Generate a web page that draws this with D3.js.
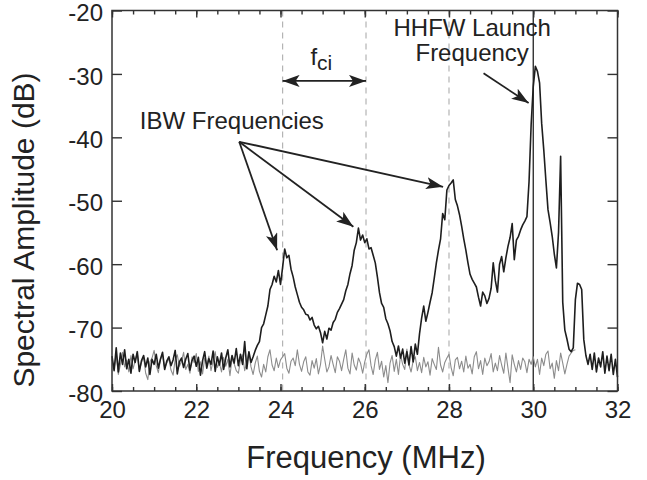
<!DOCTYPE html>
<html>
<head>
<meta charset="utf-8">
<script src="https://cdn.jsdelivr.net/npm/d3@7"></script>
<style>
  body { margin: 0; background: #fff; }
  svg { display: block; font-family: "Liberation Sans", Arial, sans-serif; }
</style>
</head>
<body>
<div id="chart"></div>
<script>
// frequency grid of both traces (MHz)
const freqStart = 20;
const freqStep = 0.05;

// plasma spectrum (black), one row per MHz
const plasmaDb = [
  -74.5, -76.8, -73.2, -77.0, -74.0, -75.8, -73.5, -76.5, -75.0, -77.2, -74.2, -75.5, -73.8, -76.9, -75.2, -74.4, -76.2, -74.8, -77.4, -75.0,
  -75.8, -74.2, -76.4, -75.0, -73.9, -76.6, -75.3, -74.6, -76.0, -75.1, -73.6, -77.3, -75.4, -74.8, -76.3, -75.0, -74.1, -76.7, -75.2, -74.5,
  -76.1, -74.7, -77.5, -75.2, -73.8, -76.4, -74.9, -75.8, -73.7, -76.9, -74.6, -75.9, -74.0, -76.6, -74.8, -73.5, -76.2, -74.4, -75.6, -73.3,
  -76.0, -74.2, -75.8, -72.2, -76.5, -73.8, -75.5, -74.6, -73.6, -72.8, -72.2, -70.0, -69.4, -68.0, -66.6, -64.0, -63.2, -61.9, -62.8, -61.0,
  -63.2, -60.5, -57.6, -59.0, -58.6, -60.8, -62.0, -63.6, -64.8, -66.0, -66.8, -67.2, -67.9, -68.0, -68.8, -68.4, -69.6, -70.2, -69.8, -70.8,
  -72.4, -70.6, -71.8, -70.1, -70.4, -69.2, -68.7, -67.6, -67.0, -66.3, -65.6, -64.2, -63.2, -61.5, -60.2, -57.8, -56.6, -54.3, -56.2, -55.4,
  -56.6, -56.0, -57.6, -57.4, -58.6, -59.8, -62.0, -64.5, -66.2, -66.8, -68.6, -69.4, -70.5, -72.2, -73.0, -74.5, -72.9, -74.8, -73.4, -75.6,
  -73.8, -75.9, -73.0, -75.4, -72.6, -74.2, -71.0, -68.5, -66.6, -69.0, -67.6, -66.0, -64.5, -62.2, -59.8, -57.8, -56.0, -52.0, -53.0, -48.3,
  -47.6, -47.2, -46.7, -49.8, -50.8, -52.2, -54.0, -56.0, -57.8, -59.8, -61.6, -62.4, -63.0, -63.6, -65.2, -66.6, -64.4, -65.0, -66.2, -65.4,
  -63.8, -59.8, -62.6, -64.4, -60.0, -58.8, -61.2, -59.0, -57.2, -55.8, -53.6, -59.3, -56.2, -55.6, -54.6, -53.8, -53.2, -52.5, -47.0, -38.0,
  -32.0, -28.8, -29.6, -31.4, -37.8, -42.0, -46.8, -51.4, -53.4, -55.6, -58.4, -60.6, -55.0, -43.0, -66.0, -70.4, -71.8, -73.4, -73.8, -73.2,
  -65.6, -63.0, -63.2, -64.0, -71.9, -74.4, -75.8, -74.2, -76.6, -74.0, -77.0, -74.8, -76.2, -73.8, -77.2, -74.5, -76.8, -74.2, -77.4, -75.0,
  -77.8
];

// background / no plasma (grey), 20 to 31 MHz
const noiseDb = [
  -75.0, -76.6, -74.2, -77.4, -75.8, -73.9, -76.2, -75.1, -77.0, -74.4, -76.5, -75.2, -74.0, -76.8, -75.5, -74.6, -77.2, -78.2, -75.4, -74.8,
  -73.6, -76.0, -77.1, -75.0, -74.2, -76.4, -75.6, -74.9, -76.7, -77.5, -75.0, -74.3, -76.1, -75.3, -73.9, -76.6, -75.8, -77.2, -74.6, -75.5,
  -74.1, -76.9, -75.4, -77.3, -74.8, -75.9, -74.5, -76.8, -75.2, -73.8, -76.3, -75.6, -77.0, -74.7, -76.1, -75.0, -77.6, -74.9, -75.7, -76.8,
  -77.2, -75.1, -74.3, -76.8, -75.4, -73.9, -76.2, -77.4, -75.6, -74.5, -76.9, -77.8, -75.8, -77.0, -74.6, -73.5, -75.9, -76.8, -74.8, -76.3,
  -75.1, -74.6, -74.1, -76.4, -77.2, -75.3, -74.8, -76.0, -73.5, -75.8, -76.9, -75.4, -74.6, -77.0, -77.5, -75.2, -76.4, -74.9, -77.3, -75.8,
  -72.9, -75.0, -77.0, -76.2, -74.4, -75.8, -77.1, -74.6, -75.3, -76.8, -75.0, -73.5, -76.4, -77.3, -74.0, -75.9, -76.7, -74.8, -75.6, -77.2,
  -75.4, -74.2, -73.5, -76.0, -77.4, -75.1, -73.9, -76.6, -75.3, -77.8, -76.0, -78.7, -75.6, -74.4, -76.9, -75.0, -77.4, -74.3, -75.8, -76.6,
  -73.4, -75.9, -77.0, -75.2, -74.6, -76.8, -75.5, -77.1, -74.7, -76.2, -75.4, -77.5, -74.9, -75.8, -76.6, -73.1, -75.9, -77.0, -75.5, -74.8,
  -74.2, -76.3, -77.6, -75.1, -74.7, -76.5, -75.3, -77.0, -74.5, -76.4, -75.8, -77.3, -74.6, -73.8, -76.5, -75.2, -77.4, -74.8, -76.0, -75.4,
  -74.1, -77.0, -75.6, -76.8, -74.4, -75.9, -77.2, -74.0, -76.4, -78.7, -74.3, -75.8, -77.0, -75.2, -76.6, -74.8, -75.4, -77.1, -75.0, -75.8,
  -74.6, -76.2, -75.0, -77.4, -74.8, -76.0, -74.2, -73.7, -76.5, -75.6, -78.0, -75.2, -76.8, -74.0, -75.6, -77.3, -75.8, -74.5, -74.0, -73.6,
  -73.5
];

const xTickValues = [20, 22, 24, 26, 28, 30, 32];
const xMinorTicks = d3.range(20, 32.01, 0.5);
const yTickValues = [-80, -70, -60, -50, -40, -30, -20];
const ibwFreqs = [24.05, 26.03, 28.0];
const launchFreq = 30.0;

const width = 647;
const height = 480;
const margin = { top: 10.5, right: 29.5, bottom: 89, left: 112 };

const x = d3.scaleLinear()
  .domain([20, 32])
  .range([margin.left, width - margin.right]);

const y = d3.scaleLinear()
  .domain([-80, -20])
  .range([height - margin.bottom, margin.top]);

const toPoints = values => values.map((v, i) => ({ f: freqStart + i * freqStep, db: v }));

const line = d3.line()
  .x(d => x(d.f))
  .y(d => y(d.db));

const svg = d3.select('#chart')
  .append('svg')
  .attr('width', width)
  .attr('height', height);

const defs = svg.append('defs');
defs.append('marker')
  .attr('id', 'head')
  .attr('markerUnits', 'userSpaceOnUse')
  .attr('markerWidth', 18)
  .attr('markerHeight', 12)
  .attr('refX', 17)
  .attr('refY', 6)
  .attr('orient', 'auto-start-reverse')
  .append('path')
  .attr('d', 'M0,0 L17,6 L0,12 L4,6 Z')
  .attr('fill', '#222');

// reference lines
svg.append('g')
  .selectAll('line')
  .data(ibwFreqs)
  .join('line')
  .attr('x1', d => x(d))
  .attr('x2', d => x(d))
  .attr('y1', y(-20))
  .attr('y2', y(-80))
  .attr('stroke', '#b4b4b4')
  .attr('stroke-width', 1.2)
  .attr('stroke-dasharray', '6,5');

svg.append('line')
  .attr('x1', x(launchFreq))
  .attr('x2', x(launchFreq))
  .attr('y1', y(-20))
  .attr('y2', y(-80))
  .attr('stroke', '#222')
  .attr('stroke-width', 1.3);

// traces
svg.append('path')
  .attr('fill', 'none')
  .attr('stroke', '#8c8c8c')
  .attr('stroke-width', 1.1)
  .attr('stroke-linejoin', 'round')
  .attr('d', line(toPoints(noiseDb)));

svg.append('path')
  .attr('fill', 'none')
  .attr('stroke', '#1e1e1e')
  .attr('stroke-width', 1.6)
  .attr('stroke-linejoin', 'round')
  .attr('d', line(toPoints(plasmaDb)));

// axes, ticks pointing into the box
const styleAxis = g => g
  .call(g => g.select('.domain').remove())
  .call(g => g.selectAll('.tick line').attr('stroke', '#333').attr('stroke-width', 1.4))
  .call(g => g.selectAll('text').attr('fill', '#222'))
  .attr('font-size', 24)
  .attr('font-family', '"Liberation Sans", Arial, sans-serif');

svg.append('g')
  .attr('transform', `translate(0,${y(-80)})`)
  .call(d3.axisBottom(x).tickValues(xMinorTicks).tickSize(-4).tickFormat(''))
  .call(styleAxis);

svg.append('g')
  .attr('transform', `translate(0,${y(-80)})`)
  .call(d3.axisBottom(x).tickValues(xTickValues).tickSize(-7).tickPadding(10).tickFormat(d3.format('d')))
  .call(styleAxis);

svg.append('g')
  .attr('transform', `translate(0,${y(-20)})`)
  .call(d3.axisTop(x).tickValues(xMinorTicks).tickSize(-4).tickFormat(''))
  .call(styleAxis);

svg.append('g')
  .attr('transform', `translate(0,${y(-20)})`)
  .call(d3.axisTop(x).tickValues(xTickValues).tickSize(-7).tickFormat(''))
  .call(styleAxis);

svg.append('g')
  .attr('transform', `translate(${x(20)},0)`)
  .call(d3.axisLeft(y).tickValues(yTickValues).tickSize(-10).tickPadding(9).tickFormat(d => String(d).replace('\u2212', '-')))
  .call(styleAxis)
  .call(g => g.selectAll('.tick text').attr('dy', '0.42em'));

svg.append('g')
  .attr('transform', `translate(${x(32)},0)`)
  .call(d3.axisRight(y).tickValues(yTickValues).tickSize(-10).tickFormat(''))
  .call(styleAxis);

svg.append('rect')
  .attr('x', x(20))
  .attr('y', y(-20))
  .attr('width', x(32) - x(20))
  .attr('height', y(-80) - y(-20))
  .attr('fill', 'none')
  .attr('stroke', '#333')
  .attr('stroke-width', 1.5);

// axis titles
svg.append('text')
  .attr('x', 366)
  .attr('y', 468)
  .attr('text-anchor', 'middle')
  .attr('font-size', 31)
  .attr('fill', '#222')
  .text('Frequency (MHz)');

svg.append('text')
  .attr('transform', 'translate(34,230) rotate(-90)')
  .attr('text-anchor', 'middle')
  .attr('font-size', 30)
  .attr('fill', '#222')
  .text('Spectral Amplitude (dB)');

// annotations
const ann = svg.append('g')
  .attr('font-size', 24)
  .attr('fill', '#222');

ann.append('text')
  .attr('x', x(20.66))
  .attr('y', y(-38.7))
  .text('IBW Frequencies');

const ibwOrigin = [23.02, -40.7];
const ibwTips = [[23.92, -57.8], [25.73, -54.1], [27.86, -47.8]];

ann.append('g')
  .selectAll('line')
  .data(ibwTips)
  .join('line')
  .attr('x1', x(ibwOrigin[0]))
  .attr('y1', y(ibwOrigin[1]))
  .attr('x2', d => x(d[0]))
  .attr('y2', d => y(d[1]))
  .attr('stroke', '#222')
  .attr('stroke-width', 1.8)
  .attr('marker-end', 'url(#head)');

// f_ci spacing arrow
ann.append('line')
  .attr('x1', x(ibwFreqs[0]))
  .attr('x2', x(ibwFreqs[1]))
  .attr('y1', y(-31.1))
  .attr('y2', y(-31.1))
  .attr('stroke', '#222')
  .attr('stroke-width', 1.8)
  .attr('marker-start', 'url(#head)')
  .attr('marker-end', 'url(#head)');

const fci = ann.append('text')
  .attr('x', x(24.71))
  .attr('y', y(-28.6));
fci.append('tspan').text('f');
fci.append('tspan')
  .attr('dy', 5)
  .attr('font-size', 21)
  .text('ci');

const hhfw = ann.append('text')
  .attr('text-anchor', 'middle');
hhfw.append('tspan')
  .attr('x', x(28.55))
  .attr('y', y(-24.0))
  .text('HHFW Launch');
hhfw.append('tspan')
  .attr('x', x(28.55))
  .attr('y', y(-27.95))
  .text('Frequency');

ann.append('line')
  .attr('x1', x(28.82))
  .attr('y1', y(-29.9))
  .attr('x2', x(29.89))
  .attr('y2', y(-34.6))
  .attr('stroke', '#222')
  .attr('stroke-width', 1.8)
  .attr('marker-end', 'url(#head)');
</script>
</body>
</html>
